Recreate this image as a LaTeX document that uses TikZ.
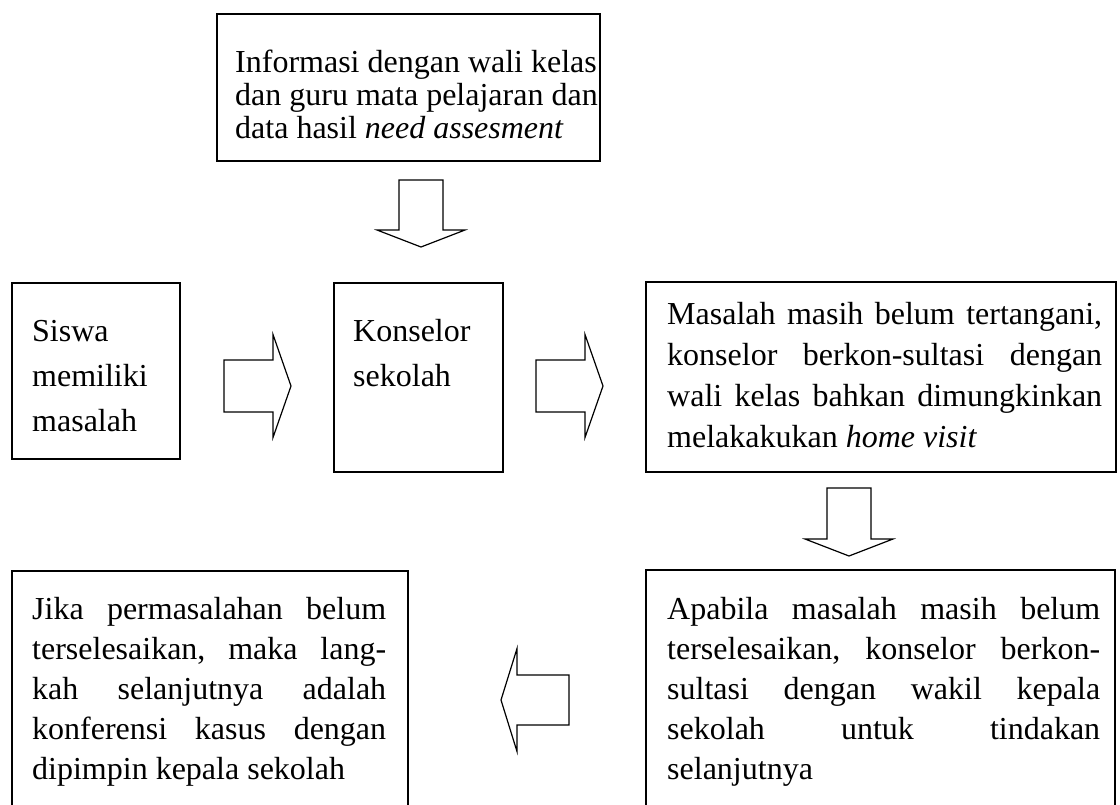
\documentclass[tikz,border=0pt]{standalone}
\usepackage{fontspec}
\setmainfont{Liberation Serif}
% one justified line of a paragraph
\newcommand\jl[1]{\makebox[\linewidth][s]{#1}}
\begin{document}
\begin{tikzpicture}[x=1pt,y=-1pt,
  box/.style={draw, line width=1.8pt, inner sep=0pt, anchor=north west},
  txt/.style={inner sep=0pt, anchor=base west},
  arrowline/.style={draw, line width=1.2pt, line join=miter, fill=white},
  pics/blockarrow/.style n args={4}{code={%
    \draw[arrowline] (0,-#1) -- (#2,-#1) -- (#2,-#3) -- ({#2+#4},0)
      -- (#2,#3) -- (#2,#1) -- (0,#1) -- cycle;}}
]
\useasboundingbox (0,0) rectangle (1120,804);
\clip (0,0) rectangle (1120,804);

% boxes
\node[box, minimum width=383, minimum height=147] (info) at (216,13) {};
\node[box, minimum width=168, minimum height=176] (siswa) at (11,282) {};
\node[box, minimum width=169, minimum height=189] (konselor) at (333,282) {};
\node[box, minimum width=470, minimum height=190] (masalah) at (645,281) {};
\node[box, minimum width=469, minimum height=260] (apabila) at (645,569) {};
\node[box, minimum width=396, minimum height=260] (jika) at (11,570) {};

% texts
\node[txt, font=\fontsize{32}{33}\selectfont] (info-t) at ([shift={(19,59)}]info.north west)
  {\parbox[t]{364pt}{Informasi dengan wali kelas\\
   dan guru mata pelajaran dan\\
   data hasil \textit{need assesment}}};
\node[txt, font=\fontsize{32}{45}\selectfont] (siswa-t) at ([shift={(21,59)}]siswa.north west)
  {\parbox[t]{140pt}{Siswa\\ memiliki\\ masalah}};
\node[txt, font=\fontsize{32}{45}\selectfont] (konselor-t) at ([shift={(20,59)}]konselor.north west)
  {\parbox[t]{140pt}{Konselor\\ sekolah}};
\node[txt, font=\fontsize{32}{41}\selectfont] (masalah-t) at ([shift={(22,43)}]masalah.north west)
  {\parbox[t]{435pt}{\jl{Masalah\hfill masih\hfill belum\hfill tertangani,}\\
   \jl{konselor\hfill berkon-sultasi\hfill dengan}\\
   \jl{wali\hfill kelas\hfill bahkan\hfill dimungkinkan}\\
   melakakukan \textit{home visit}}};
\node[txt, font=\fontsize{32}{40}\selectfont] (apabila-t) at ([shift={(22,50)}]apabila.north west)
  {\parbox[t]{433pt}{\jl{Apabila\hfill masalah\hfill masih\hfill belum}\\
   \jl{terselesaikan,\hfill konselor\hfill berkon-}\\
   \jl{sultasi\hfill dengan\hfill wakil\hfill kepala}\\
   \jl{sekolah\hfill untuk\hfill tindakan}\\
   selanjutnya}};
\node[txt, font=\fontsize{32}{40}\selectfont] (jika-t) at ([shift={(21,49)}]jika.north west)
  {\parbox[t]{354pt}{\jl{Jika\hfill permasalahan\hfill belum}\\
   \jl{terselesaikan,\hfill maka\hfill lang-}\\
   \jl{kah\hfill selanjutnya\hfill adalah}\\
   \jl{konferensi\hfill kasus\hfill dengan}\\
   dipimpin kepala sekolah}};

% block arrows between the boxes
\pic[rotate=-90] at (421,180) {blockarrow={22}{50}{44}{17}};
\pic at (224,386) {blockarrow={26}{49}{51.5}{18}};
\pic at (536,386) {blockarrow={26}{49}{51.5}{18}};
\pic[rotate=-90] at (849,488) {blockarrow={22}{51}{44}{17}};
\pic[rotate=180] at (569,700) {blockarrow={25}{52}{51.5}{16}};
\end{tikzpicture}
\end{document}
